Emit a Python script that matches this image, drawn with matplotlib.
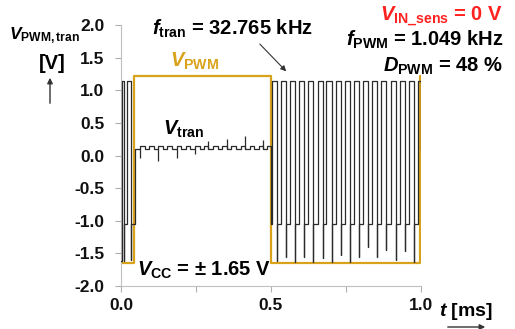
import numpy as np
import matplotlib
matplotlib.use('Agg')
import matplotlib.pyplot as plt

# Fonts: bold Arial-like text, math parts in the same family
plt.rcParams['font.family'] = ['Liberation Sans', 'DejaVu Sans']
plt.rcParams['font.weight'] = 'bold'
plt.rcParams['mathtext.fontset'] = 'custom'
plt.rcParams['mathtext.rm'] = 'Liberation Sans:bold'
plt.rcParams['mathtext.it'] = 'Liberation Sans:bold:italic'
plt.rcParams['mathtext.bf'] = 'Liberation Sans:bold'

# PWM output (orange)
pwm_t = [0.0, 0.044, 0.044, 0.500, 0.500, 0.998, 0.998, 1.0]
pwm_v = [-1.65, -1.65, 1.22, 1.22, -1.65, -1.65, 1.22, 1.22]

# Tran signal levels
hi = 1.15
lo = -1.05
mid_lo = 0.10
mid_hi = 0.145

# Oscillation before the PWM edge
early_rise = [0.002, 0.019]
early_fall = [0.011, 0.033]
early_spike = [-1.62, -1.60]

# Held section (small ripple while PWM is high)
mid_start = [0.048, 0.079, 0.109, 0.140, 0.170, 0.201, 0.231, 0.262,
             0.292, 0.323, 0.353, 0.384, 0.414, 0.445, 0.475]
mid_spike_t = [0.063, 0.124, 0.187, 0.247, 0.291, 0.354, 0.414, 0.474]
mid_spike_v = [-0.03, -0.08, -0.04, 0.03, 0.22, 0.26, 0.30, 0.24]

# Oscillation after the PWM falls
late_rise = [0.503, 0.534, 0.564, 0.595, 0.625, 0.656, 0.686, 0.717, 0.747,
             0.778, 0.808, 0.839, 0.869, 0.900, 0.930, 0.961, 0.991]
late_fall = [0.520, 0.551, 0.581, 0.612, 0.642, 0.673, 0.703, 0.734,
             0.764, 0.795, 0.825, 0.856, 0.886, 0.917, 0.947, 0.978]
late_spike = [-1.62, -1.55, -1.63, -1.55, -1.63, -1.57, -1.63, -1.52,
              -1.63, -1.55, -1.40, -1.55, -1.45, -1.60, -1.47, -1.63]

xticks = [0.0, 0.25, 0.5, 0.75, 1.0]
xticklabels = ['0.0', '', '0.5', '', '1.0']
yticks = [-2.0, -1.5, -1.0, -0.5, 0.0, 0.5, 1.0, 1.5, 2.0]
yticklabels = ['-2.0', '-1.5', '-1.0', '-0.5', '0.0', '0.5', '1.0', '1.5', '2.0']

# Build the tran trace as one polyline
t = [0.0]
v = [-1.62]
for r, f, s in zip(early_rise, early_fall, early_spike):
    t += [r, r, f, f, f]
    v += [v[-1], hi, hi, s, lo]

mid_end = mid_start[1:] + [0.5]
for s, e in zip(mid_start, mid_end):
    m = (s + e) / 2
    t += [s, s, m, m, e]
    v += [v[-1], mid_lo, mid_lo, mid_hi, mid_hi]
t += [0.5]
v += [lo]

for i, r in enumerate(late_rise):
    t += [r, r]
    v += [lo, hi]
    if i < len(late_fall):
        f = late_fall[i]
        t += [f, f, f]
        v += [hi, late_spike[i], lo]
t += [1.0, 1.0]
v += [hi, mid_lo]

fig = plt.figure(figsize=(5.15, 3.29), dpi=100)
ax = fig.add_axes([0.235, 0.1307, 0.5816, 0.793])

ax.plot(pwm_t, pwm_v, color='#d9a21b', lw=1.6, zorder=2)
ax.plot(t, v, color='#2b2b2b', lw=0.9, zorder=3)
ax.vlines(mid_spike_t, mid_lo, mid_spike_v, color='#2b2b2b', lw=0.9, zorder=3)

ax.set_xlim(0, 1.0)
ax.set_ylim(-2.0, 2.0)
ax.set_xticks(xticks)
ax.set_xticklabels(xticklabels)
ax.set_yticks(yticks)
ax.set_yticklabels(yticklabels)
ax.tick_params(axis='both', colors='#b0b0b0', labelcolor='#111111', labelsize=12.5,
               length=4, width=0.8)
ax.tick_params(axis='y', pad=8)
ax.tick_params(axis='x', pad=5)
for lab in ax.get_xticklabels() + ax.get_yticklabels():
    lab.set_fontweight('bold')
for side in ['top', 'right']:
    ax.spines[side].set_visible(False)
for side in ['left', 'bottom']:
    ax.spines[side].set_color('#c0c0c0')
    ax.spines[side].set_linewidth(0.8)

# Axis labels and arrows
fig.text(0.018, 0.882, r'$\mathit{V}_{\mathrm{PWM,tran}}$', fontsize=12.5)
fig.text(0.101, 0.790, '[V]', fontsize=14.5, ha='center')
ax.annotate('', xy=(50, 254), xytext=(50, 223), xycoords='figure pixels',
            textcoords='figure pixels',
            arrowprops=dict(arrowstyle='-|>', color='#333333', lw=1, mutation_scale=8))
fig.text(0.852, 0.040, r'$\mathit{t}$ [ms]', fontsize=14)
ax.annotate('', xy=(488, 2), xytext=(445, 2), xycoords='figure pixels',
            textcoords='figure pixels',
            arrowprops=dict(arrowstyle='-|>', color='#333333', lw=1, mutation_scale=8))

# Annotations
fig.text(0.295, 0.894, r'$\mathit{f}_{\mathrm{tran}}$ = 32.765 kHz', fontsize=14.5)
ax.annotate('', xy=(0.558, 1.26), xytext=(0.457, 1.74),
            arrowprops=dict(arrowstyle='-|>', color='#333333', lw=0.8, mutation_scale=8),
            annotation_clip=False)
fig.text(0.977, 0.939, r'$\mathit{V}_{\mathrm{IN\_sens}}$ = 0 V', fontsize=14.5,
         ha='right', color='#ff2020')
fig.text(0.977, 0.860, r'$\mathit{f}_{\mathrm{PWM}}$ = 1.049 kHz', fontsize=14.5, ha='right')
fig.text(0.977, 0.781, r'$\mathit{D}_{\mathrm{PWM}}$ = 48 %', fontsize=14.5, ha='right')
fig.text(0.330, 0.796, r'$\mathit{V}_{\mathrm{PWM}}$', fontsize=14.5, color='#d9a21b')
fig.text(0.317, 0.590, r'$\mathit{V}_{\mathrm{tran}}$', fontsize=14.5)
fig.text(0.266, 0.161, r'$\mathit{V}_{\mathrm{CC}}$ = $\pm$ 1.65 V', fontsize=14.5)

fig.savefig('out.png', dpi=100)
